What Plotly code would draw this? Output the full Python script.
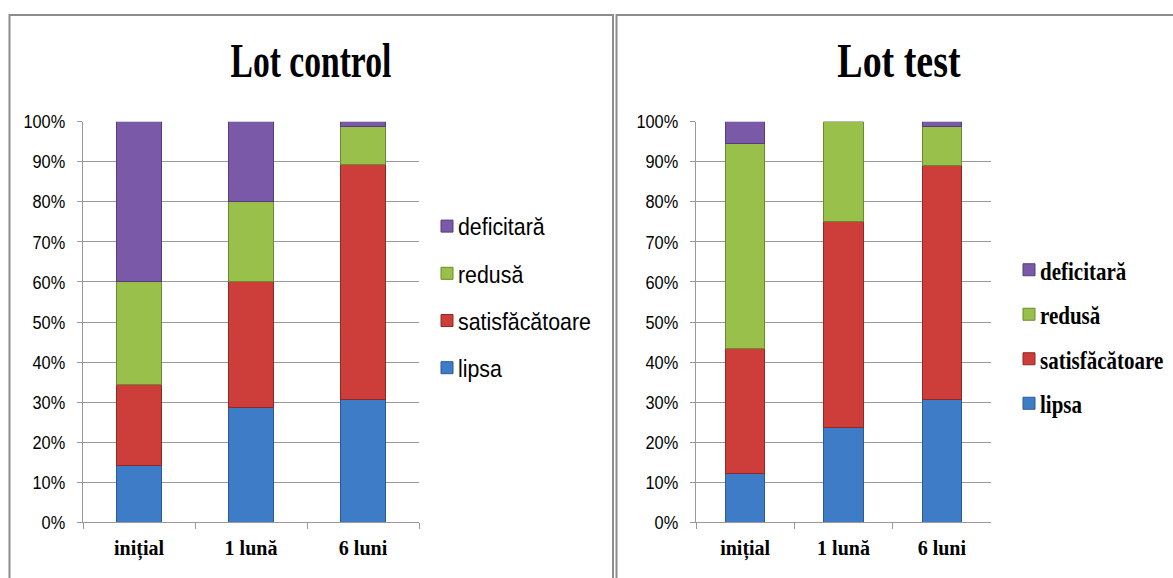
import plotly.graph_objects as go

W, H = 1173, 578

# Categories (time points) and quality levels
periods = ["inițial", "1 lună", "6 luni"]
levels = ["lipsa", "satisfăcătoare", "redusă", "deficitară"]

# Lot control - percentage of patients per level
control_lipsa = [14.3, 28.6, 30.7]
control_satisf = [20.2, 31.4, 58.5]
control_redusa = [25.5, 20.0, 9.7]
control_deficitara = [40.0, 20.0, 1.1]

# Lot test - percentage of patients per level
test_lipsa = [12.3, 23.6, 30.6]
test_satisf = [31.0, 51.6, 58.4]
test_redusa = [51.3, 24.8, 9.9]
test_deficitara = [5.4, 0.0, 1.1]

y_ticks = [0, 10, 20, 30, 40, 50, 60, 70, 80, 90, 100]
y_tick_labels = ["0%", "10%", "20%", "30%", "40%", "50%", "60%", "70%", "80%", "90%", "100%"]

fills = ["#3e7cc8", "#cd3d3a", "#98c04b", "#7a59a8"]
edges = ["#2b5a94", "#8f2826", "#6a8a2c", "#553c7a"]

control = [control_lipsa, control_satisf, control_redusa, control_deficitara]
test = [test_lipsa, test_satisf, test_redusa, test_deficitara]


def px_x(v):
    return v / W


def px_y(v):
    return 1 - v / H


fig = go.Figure()

# stacked from the bottom (lipsa) up; legend lists the top segment first
for i, name in enumerate(levels):
    fig.add_trace(go.Bar(
        x=periods, y=control[i], name=name,
        marker=dict(color=fills[i], line=dict(color=edges[i], width=1)),
        xaxis="x", yaxis="y", legend="legend",
        legendgroup="c" + str(i), legendrank=len(levels) - i,
    ))
for i, name in enumerate(levels):
    fig.add_trace(go.Bar(
        x=periods, y=test[i], name=name,
        marker=dict(color=fills[i], line=dict(color=edges[i], width=1)),
        xaxis="x2", yaxis="y2", legend="legend2",
        legendgroup="t" + str(i), legendrank=len(levels) - i,
    ))

grid = "#999999"
y_dom = [px_y(522.3), px_y(121.7)]

yaxis_common = dict(
    range=[0, 100], tickmode="array", tickvals=y_ticks, ticktext=y_tick_labels,
    showgrid=True, gridcolor=grid, gridwidth=1, zeroline=False,
    showline=True, linecolor=grid, linewidth=1,
    ticks="outside", ticklen=5, tickcolor=grid,
    tickfont=dict(family="Liberation Sans", size=19, color="#000000"),
    ticklabelstandoff=8, domain=y_dom, fixedrange=True,
)
xaxis_common = dict(
    showline=True, linecolor=grid, linewidth=1, showgrid=False,
    ticks="outside", ticklen=6, tickcolor=grid, tickson="boundaries",
    tickfont=dict(family="Liberation Serif", size=20, color="#000000", weight="bold"),
    ticklabelstandoff=8, fixedrange=True,
)

fig.update_layout(
    width=W, height=H,
    margin=dict(l=0, r=0, t=0, b=0, autoexpand=False),
    paper_bgcolor="white", plot_bgcolor="white",
    barmode="stack", bargap=0.6,
    showlegend=True,
    xaxis=dict(xaxis_common, domain=[px_x(83), px_x(419)], anchor="y"),
    yaxis=dict(yaxis_common, anchor="x"),
    xaxis2=dict(xaxis_common, domain=[px_x(696), px_x(991)], anchor="y2"),
    yaxis2=dict(yaxis_common, anchor="x2"),
    legend=dict(
        x=px_x(427), y=px_y(204), xanchor="left", yanchor="top",
        traceorder="grouped", tracegroupgap=13,
        font=dict(family="Liberation Sans", size=24, color="#000000"),
        bgcolor="rgba(0,0,0,0)", itemclick=False, itemdoubleclick=False,
    ),
    legend2=dict(
        x=px_x(1009), y=px_y(247), xanchor="left", yanchor="top",
        traceorder="grouped", tracegroupgap=9,
        font=dict(family="Liberation Serif", size=25, color="#000000", weight="bold"),
        bgcolor="rgba(0,0,0,0)", itemclick=False, itemdoubleclick=False,
    ),
    annotations=[
        dict(text="Lot control", x=px_x(311), y=px_y(61), xref="paper", yref="paper",
             xanchor="center", yanchor="middle", showarrow=False,
             font=dict(family="Liberation Serif", size=48, color="#000000", weight="bold")),
        dict(text="Lot test", x=px_x(899), y=px_y(61), xref="paper", yref="paper",
             xanchor="center", yanchor="middle", showarrow=False,
             font=dict(family="Liberation Serif", size=48, color="#000000", weight="bold")),
    ],
    shapes=[
        # frame around each chart panel
        dict(type="rect", xref="paper", yref="paper",
             x0=px_x(9.5), x1=px_x(613), y0=-0.05, y1=px_y(15),
             line=dict(color="#8c8c8c", width=2), layer="below"),
        dict(type="rect", xref="paper", yref="paper",
             x0=px_x(616.5), x1=1.05, y0=-0.05, y1=px_y(15),
             line=dict(color="#8c8c8c", width=2), layer="below"),
    ],
)

# Narrow the rendered text horizontally (condensed typefaces), keeping each
# label anchored at its own x position; legend labels sit closer to their keys.
# Re-applied after a redraw, never twice on the same rendered node.
post = """
var gd = document.getElementById('{plot_id}');
function squeezeNode(t, s, dx) {
  var cur = t.getAttribute('transform') || '';
  if (t.__squeezed !== undefined && t.__squeezed === cur) return;
  var x = parseFloat(t.getAttribute('x') || 0);
  var next = cur + ' translate(' + (x + dx) + ',0) scale(' + s + ',1) translate(' + (-x) + ',0)';
  t.setAttribute('transform', next);
  t.__squeezed = next;
}
function squeezeAll() {
  var titles = gd.querySelectorAll('.annotation-text');
  if (titles[0]) squeezeNode(titles[0], 0.70, 0);
  if (titles[1]) squeezeNode(titles[1], 0.79, 0);
  gd.querySelectorAll('g.ytick text, g.y2tick text').forEach(function (t) {
    squeezeNode(t, 0.86, 0);
  });
  gd.querySelectorAll('text.legendtext').forEach(function (t) {
    squeezeNode(t, 0.89, -9);
  });
  gd.querySelectorAll('text.legend2text').forEach(function (t) {
    squeezeNode(t, 0.84, -9);
  });
}
squeezeAll();
gd.on('plotly_afterplot', squeezeAll);
"""

fig.write_html("out.html", post_script=post)
